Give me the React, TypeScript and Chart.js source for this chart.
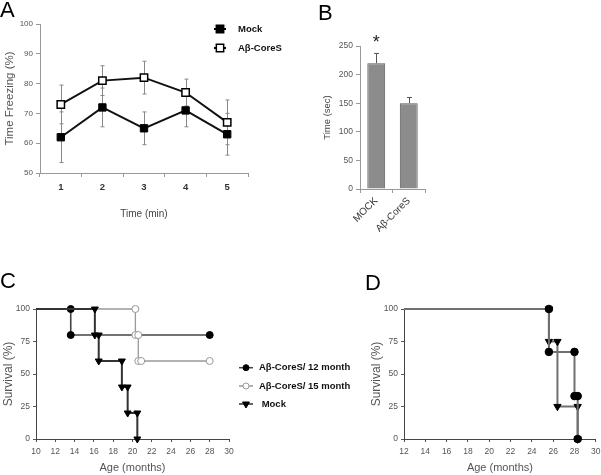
import React, { useEffect, useRef } from 'react';
import { Chart, registerables } from 'chart.js';

Chart.register(...registerables);

const FONT = "'Liberation Sans', Arial, sans-serif";
Chart.defaults.font.family = FONT;

// ---------- Panel A: fear conditioning ----------
const aMinutes = ['1', '2', '3', '4', '5'];
const aMock = [62, 72, 65, 71, 63];
const aMockErr = [8.5, 6.5, 5.5, 5.5, 7];
const aCoreS = [73, 81, 82, 77, 67];
const aCoreSErr = [6.5, 5, 5.5, 4.5, 7.5];
const aYMin = 50;
const aYMax = 100;
const aYStep = 10;

// ---------- Panel B: bars ----------
const bGroups = ['MOCK', 'Aβ-CoreS'];
const bTime = [220, 150];
const bErr = [17, 10];
const bSignif = ['*', ''];
const bYMax = 250;
const bYStep = 50;

// ---------- Panel C: survival ----------
const cLabels = ['Aβ-CoreS/ 12 month', 'Aβ-CoreS/ 15 month', ' Mock'];
const c12Age = [10, 13.6, 13.6, 28];
const c12Surv = [100, 100, 80, 80];
const c15Age = [10, 20.3, 20.3, 20.6, 20.6, 20.9, 28];
const c15Surv = [100, 100, 80, 80, 60, 60, 60];
const cMockAge = [10, 16.1, 16.1, 16.5, 16.5, 18.9, 18.9, 19.5, 19.5, 20.5, 20.5];
const cMockSurv = [100, 100, 80, 80, 60, 60, 40, 40, 20, 20, 0];
const cXMin = 10;
const cXMax = 30;

// ---------- Panel D: survival ----------
const dCircAge = [12, 25.6, 25.6, 28.0, 28.0, 28.3, 28.3];
const dCircSurv = [100, 100, 67, 67, 33, 33, 0];
const dTriAge = [12, 25.6, 25.6, 26.4, 26.4, 28.3, 28.3];
const dTriSurv = [100, 100, 75, 75, 25, 25, 0];
const dXMin = 12;
const dXMax = 30;

const survTickStep = 25;
const ageTickStep = 2;

const pts = (xs: number[], ys: number[]) => xs.map((x, i) => ({ x, y: ys[i] }));

function drawMarker(ctx: CanvasRenderingContext2D, style: string, x: number, y: number, r: number, fill: string, stroke: string, lw: number) {
  ctx.save();
  ctx.beginPath();
  if (style === 'rect') {
    const s = r * Math.SQRT1_2;
    ctx.rect(x - s, y - s, 2 * s, 2 * s);
  } else if (style === 'circle') {
    ctx.arc(x, y, r, 0, Math.PI * 2);
  } else {
    const h = r * Math.sin(Math.PI / 3);
    ctx.moveTo(x, y + r);
    ctx.lineTo(x - h, y - r / 2);
    ctx.lineTo(x + h, y - r / 2);
    ctx.closePath();
  }
  ctx.fillStyle = fill;
  ctx.fill();
  ctx.lineWidth = lw;
  ctx.strokeStyle = stroke;
  ctx.stroke();
  ctx.restore();
}

type EB = { values: number[]; errs: number[]; color: string; cap: number; upperOnly?: boolean; phase: 'before' | 'after' };

function errorBarPlugin(id: string, bars: EB[]) {
  const draw = (chart: any, phase: string) => {
    const ctx = chart.ctx;
    const xs = chart.scales.x;
    const ys = chart.scales.y;
    bars.filter((b) => b.phase === phase).forEach((b) => {
      ctx.save();
      ctx.strokeStyle = b.color;
      ctx.lineWidth = 1;
      b.values.forEach((v, i) => {
        const px = Math.round(xs.getPixelForValue(i)) + 0.5;
        const top = ys.getPixelForValue(v + b.errs[i]);
        const bot = ys.getPixelForValue(b.upperOnly ? v : v - b.errs[i]);
        ctx.beginPath();
        ctx.moveTo(px, top);
        ctx.lineTo(px, bot);
        ctx.moveTo(px - b.cap, top);
        ctx.lineTo(px + b.cap, top);
        if (!b.upperOnly) {
          ctx.moveTo(px - b.cap, bot);
          ctx.lineTo(px + b.cap, bot);
        }
        ctx.stroke();
      });
      ctx.restore();
    });
  };
  return {
    id,
    beforeDatasetsDraw: (c: any) => draw(c, 'before'),
    afterDatasetsDraw: (c: any) => draw(c, 'after'),
  };
}

const fixScale = (w?: number, h?: number) => (s: any) => {
  if (w !== undefined) s.width = w;
  if (h !== undefined) s.height = h;
  s.paddingLeft = 0;
  s.paddingRight = 0;
  s.paddingTop = 0;
  s.paddingBottom = 0;
};

function makeA(): any {
  const legend = {
    id: 'legA',
    afterDraw(chart: any) {
      const ctx = chart.ctx;
      const ds = chart.data.datasets;
      const rows = [29, 48];
      ds.forEach((d: any, i: number) => {
        const y = rows[i];
        ctx.save();
        ctx.strokeStyle = '#000';
        ctx.lineWidth = 2;
        ctx.beginPath();
        ctx.moveTo(214, y);
        ctx.lineTo(226, y);
        ctx.stroke();
        ctx.restore();
        drawMarker(ctx, 'rect', 220, y, 5.2, d.pointBackgroundColor, '#000', 1.5);
        ctx.save();
        ctx.font = `bold 9.5px ${FONT}`;
        ctx.fillStyle = '#111';
        ctx.textBaseline = 'middle';
        ctx.fillText(d.label, 238, y);
        ctx.restore();
      });
    },
  };
  return {
    type: 'line',
    data: {
      labels: aMinutes,
      datasets: [
        {
          label: 'Mock', data: aMock, borderColor: '#111', borderWidth: 2, pointStyle: 'rect', pointRadius: 5.2,
          pointBackgroundColor: '#000', pointBorderColor: '#000', pointBorderWidth: 1, clip: false,
        },
        {
          label: 'Aβ-CoreS', data: aCoreS, borderColor: '#111', borderWidth: 2, pointStyle: 'rect', pointRadius: 5.2,
          pointBackgroundColor: '#fff', pointBorderColor: '#000', pointBorderWidth: 1.5, clip: false,
        },
      ],
    },
    options: {
      responsive: false, animation: false,
      layout: { padding: { left: 0, top: 24, right: 52, bottom: 0 } },
      plugins: { legend: { display: false }, tooltip: { enabled: false } },
      scales: {
        x: {
          offset: true,
          grid: { offset: true, drawOnChartArea: false, tickLength: 4, color: '#999' },
          border: { color: '#999' },
          ticks: { font: { size: 9.5, weight: 'bold' }, color: '#333', padding: 5 },
          title: { display: true, text: 'Time (min)', font: { size: 10 }, color: '#444', padding: { top: 5, bottom: 0 } },
          afterFit: fixScale(undefined, 47),
        },
        y: {
          min: aYMin, max: aYMax,
          grid: { drawOnChartArea: false, tickLength: 4, color: '#999' },
          border: { color: '#999' },
          ticks: { stepSize: aYStep, font: { size: 8 }, color: '#555', padding: 3 },
          title: { display: true, text: 'Time Freezing (%)', font: { size: 11.5 }, color: '#555', padding: { top: 2.5, bottom: 0 } },
          afterFit: fixScale(40),
        },
      },
    },
    plugins: [
      errorBarPlugin('ebA', [
        { values: aMock, errs: aMockErr, color: '#888', cap: 2, phase: 'before' },
        { values: aCoreS, errs: aCoreSErr, color: '#888', cap: 2, phase: 'before' },
      ]),
      legend,
    ],
  };
}

function makeB(): any {
  const star = {
    id: 'starB',
    afterDatasetsDraw(chart: any) {
      const ctx = chart.ctx;
      const xs = chart.scales.x;
      const ys = chart.scales.y;
      bSignif.forEach((s, i) => {
        if (!s) return;
        ctx.save();
        ctx.font = `18px ${FONT}`;
        ctx.fillStyle = '#222';
        ctx.textAlign = 'center';
        ctx.textBaseline = 'alphabetic';
        ctx.fillText(s, xs.getPixelForValue(i), ys.getPixelForValue(bTime[i] + bErr[i]) - 5);
        ctx.restore();
      });
    },
  };
  return {
    type: 'bar',
    data: {
      labels: bGroups,
      datasets: [
        {
          data: bTime, backgroundColor: '#8c8c8c', borderColor: '#5a5a5a', borderWidth: 1,
          barPercentage: 0.55, categoryPercentage: 1,
        },
      ],
    },
    options: {
      responsive: false, animation: false,
      layout: { padding: { left: 18, top: 46, right: 25, bottom: 0 } },
      plugins: { legend: { display: false }, tooltip: { enabled: false } },
      scales: {
        x: {
          grid: { offset: true, drawOnChartArea: false, tickLength: 4, color: '#999' },
          border: { color: '#999' },
          ticks: { font: { size: 10 }, color: '#333', minRotation: 45, maxRotation: 45, padding: 2 },
          afterFit: fixScale(undefined, 51),
        },
        y: {
          min: 0, max: bYMax,
          grid: { drawOnChartArea: false, tickLength: 4, color: '#999' },
          border: { color: '#999' },
          ticks: { stepSize: bYStep, font: { size: 8.5 }, color: '#555', padding: 3 },
          title: { display: true, text: 'Time (sec)', font: { size: 9.5 }, color: '#444', padding: { top: 4, bottom: 0 } },
          afterFit: fixScale(42),
        },
      },
    },
    plugins: [errorBarPlugin('ebB', [{ values: bTime, errs: bErr, color: '#555', cap: 2.5, upperOnly: true, phase: 'after' }]), star],
  };
}

const survScales = (xMin: number, xMax: number, yWidth: number) => ({
  x: {
    type: 'linear', min: xMin, max: xMax,
    grid: { drawOnChartArea: false, tickLength: 3, color: '#555' },
    border: { color: '#444' },
    ticks: { stepSize: ageTickStep, font: { size: 8.5 }, color: '#555', padding: 5 },
    title: { display: true, text: 'Age (months)', font: { size: 11 }, color: '#555', padding: { top: 0, bottom: 0 } },
    afterFit: fixScale(undefined, 36),
  },
  y: {
    min: 0, max: 100,
    grid: { drawOnChartArea: false, tickLength: 3, color: '#555' },
    border: { color: '#444' },
    ticks: { stepSize: survTickStep, font: { size: 8.5 }, color: '#555', padding: 3 },
    title: { display: true, text: 'Survival (%)', font: { size: 12 }, color: '#555', padding: { top: 1, bottom: 0 } },
    afterFit: fixScale(yWidth),
  },
});

const hideFirst = (r: number) => (ctx: any) => (ctx.dataIndex === 0 ? 0 : r);

function makeC(): any {
  const legend = {
    id: 'legC',
    afterDraw(chart: any) {
      const ctx = chart.ctx;
      const ds = chart.data.datasets;
      const rows = [117.7, 136, 154];
      ds.forEach((d: any, i: number) => {
        const y = rows[i];
        ctx.save();
        ctx.strokeStyle = d.borderColor;
        ctx.lineWidth = 1.5;
        ctx.beginPath();
        ctx.moveTo(239, y);
        ctx.lineTo(253, y);
        ctx.stroke();
        ctx.restore();
        drawMarker(ctx, d.legendShape, 246, y, d.legendShape === 'tri' ? 4 : 3, d.pointBackgroundColor, d.pointBorderColor, 1);
        ctx.save();
        ctx.font = `bold 9.5px ${FONT}`;
        ctx.fillStyle = '#111';
        ctx.textBaseline = 'middle';
        ctx.fillText(d.label, 259, y);
        ctx.restore();
      });
    },
  };
  return {
    type: 'line',
    data: {
      datasets: [
        {
          label: cLabels[0], data: pts(c12Age, c12Surv), borderColor: '#444', borderWidth: 1.6,
          pointStyle: 'circle', pointRadius: hideFirst(3.5), pointBackgroundColor: '#000', pointBorderColor: '#000',
          pointBorderWidth: 1, clip: false, order: 3, legendShape: 'circle',
        },
        {
          label: cLabels[1], data: pts(c15Age, c15Surv), borderColor: '#999', borderWidth: 1.3,
          pointStyle: 'circle', pointRadius: hideFirst(3.5), pointBackgroundColor: '#fff', pointBorderColor: '#999',
          pointBorderWidth: 1, clip: false, order: 2, legendShape: 'circle',
        },
        {
          label: cLabels[2], data: pts(cMockAge, cMockSurv), borderColor: '#333', borderWidth: 2,
          pointStyle: 'triangle', rotation: 180, pointRadius: hideFirst(4), pointBackgroundColor: '#000', pointBorderColor: '#000',
          pointBorderWidth: 1, clip: false, order: 1, legendShape: 'tri',
        },
      ],
    },
    options: {
      responsive: false, animation: false,
      layout: { padding: { left: 0, top: 59, right: 131, bottom: 0 } },
      plugins: { legend: { display: false }, tooltip: { enabled: false } },
      scales: survScales(cXMin, cXMax, 36),
    },
    plugins: [legend],
  };
}

function makeD(): any {
  return {
    type: 'line',
    data: {
      datasets: [
        {
          label: 'circles', data: pts(dCircAge, dCircSurv), borderColor: '#707070', borderWidth: 2,
          pointStyle: 'circle', pointRadius: hideFirst(3.8), pointBackgroundColor: '#000', pointBorderColor: '#000',
          pointBorderWidth: 1, clip: false, order: 1,
        },
        {
          label: 'triangles', data: pts(dTriAge, dTriSurv), borderColor: '#707070', borderWidth: 2,
          pointStyle: 'triangle', rotation: 180, pointRadius: hideFirst(4.2), pointBackgroundColor: '#000', pointBorderColor: '#000',
          pointBorderWidth: 1, clip: false, order: 2,
        },
      ],
    },
    options: {
      responsive: false, animation: false,
      layout: { padding: { left: 8, top: 59, right: 5, bottom: 0 } },
      plugins: { legend: { display: false }, tooltip: { enabled: false } },
      scales: survScales(dXMin, dXMax, 36),
    },
  };
}

function ChartBox({ left, top, width, height, make }: { left: number; top: number; width: number; height: number; make: () => any }) {
  const ref = useRef<HTMLCanvasElement>(null);
  useEffect(() => {
    const chart = new Chart(ref.current as HTMLCanvasElement, make());
    return () => chart.destroy();
  }, []);
  return (
    <canvas
      ref={ref}
      width={width}
      height={height}
      style={{ position: 'absolute', left, top, width, height, display: 'block' }}
    />
  );
}

const letterStyle = (left: number, top: number): React.CSSProperties => ({
  position: 'absolute', left, top, fontFamily: FONT, fontSize: 22, lineHeight: '22px', color: '#000',
});

export default function App() {
  return (
    <div style={{ position: 'absolute', left: 0, top: 0, width: 601, height: 475, background: '#fff', overflow: 'hidden' }}>
      <ChartBox left={0} top={0} width={300} height={220} make={makeA} />
      <ChartBox left={300} top={0} width={150} height={240} make={makeB} />
      <ChartBox left={0} top={250} width={360} height={225} make={makeC} />
      <ChartBox left={360} top={250} width={241} height={225} make={makeD} />
      <div style={letterStyle(0, -1)}>A</div>
      <div style={letterStyle(318, 2)}>B</div>
      <div style={letterStyle(0, 270)}>C</div>
      <div style={letterStyle(365, 272)}>D</div>
    </div>
  );
}
